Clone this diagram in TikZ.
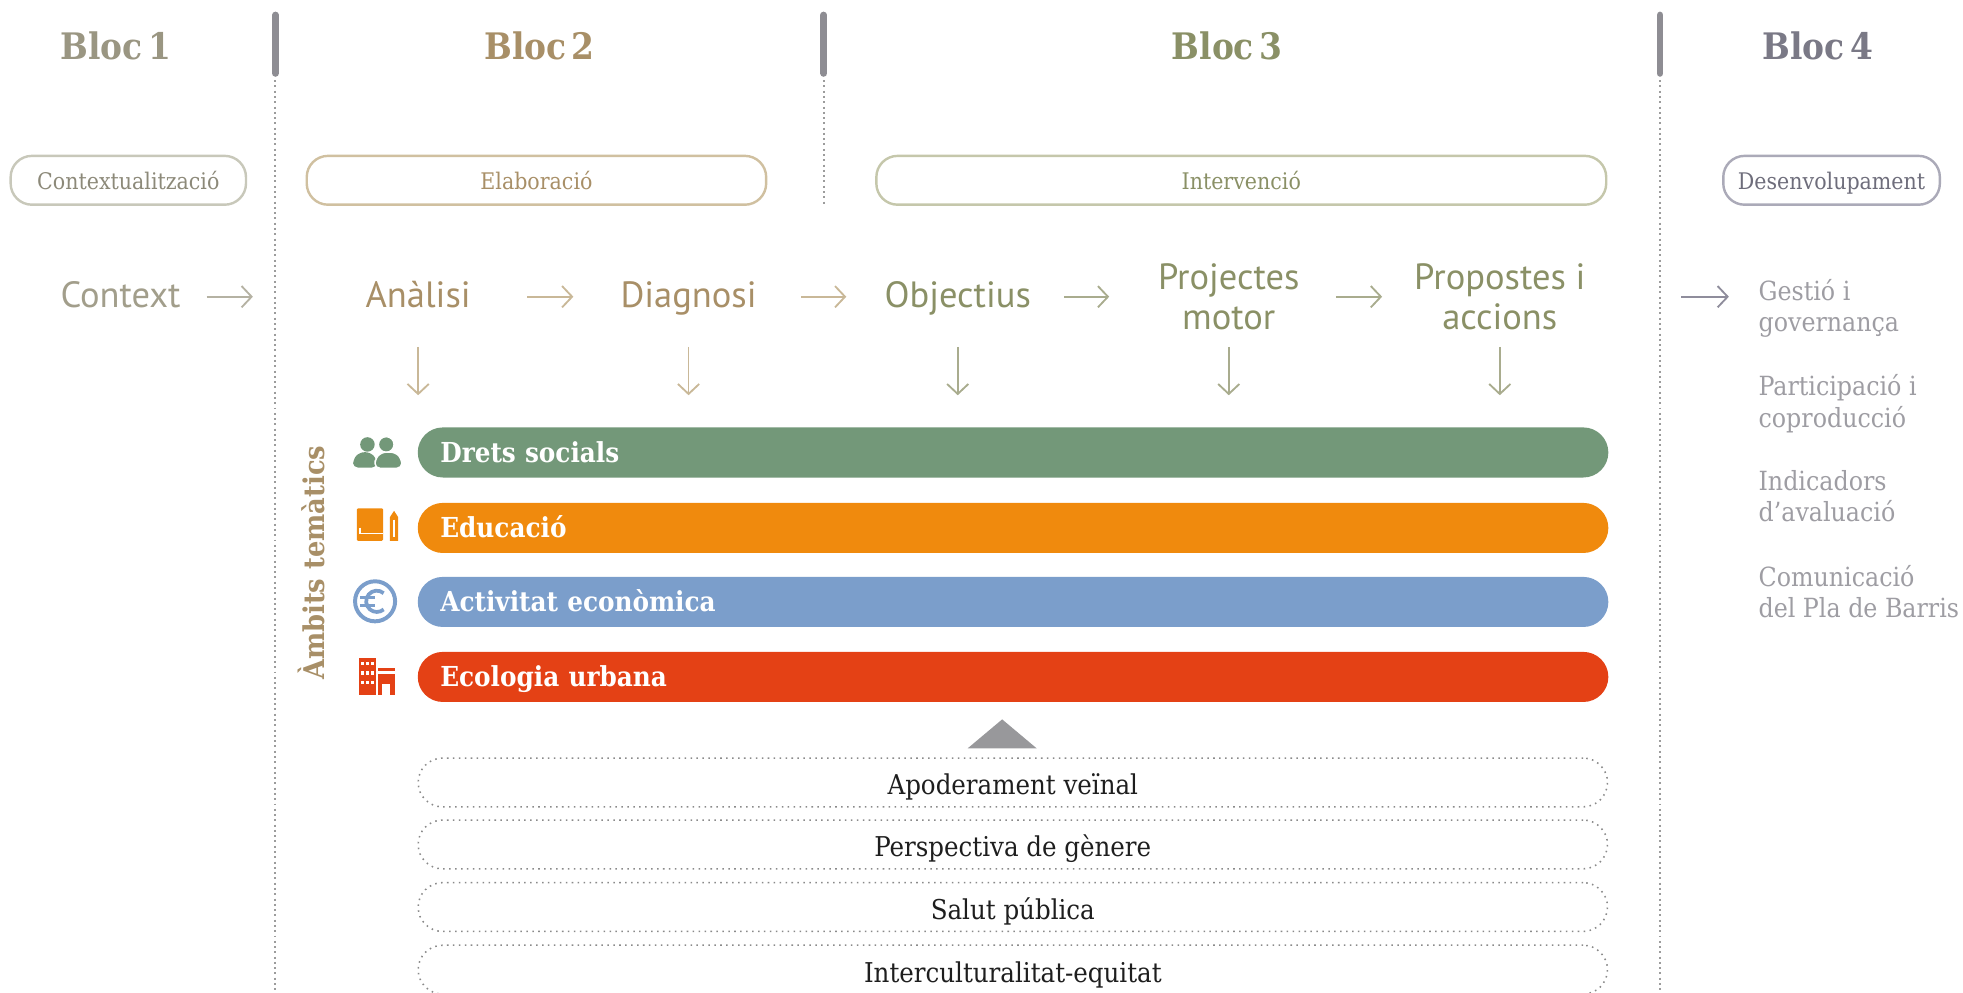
\documentclass[tikz,border=0pt]{standalone}
\usepackage{fontspec}
\setmainfont{DejaVu Serif Condensed}
\newfontfamily\procfont{PT Sans}
\usetikzlibrary{arrows.meta}

\definecolor{blocone}{HTML}{9A9682}
\definecolor{ctxtxt}{HTML}{A29E8B}
\definecolor{pillone}{HTML}{8C8979}
\definecolor{lineone}{HTML}{C8C8BA}
\definecolor{ctxarrow}{HTML}{B5B2A3}
\definecolor{bloctwo}{HTML}{A88F67}
\definecolor{linetwo}{HTML}{D0C0A0}
\definecolor{arrowtwo}{HTML}{C9B898}
\definecolor{blocthree}{HTML}{8A9066}
\definecolor{linethree}{HTML}{C5C7AB}
\definecolor{arrowthree}{HTML}{A9AC8E}
\definecolor{blocfour}{HTML}{7A7986}
\definecolor{linefour}{HTML}{ABAAB8}
\definecolor{pillfour}{HTML}{6E6D7B}
\definecolor{arrowfour}{HTML}{8F8D9C}
\definecolor{latertxt}{HTML}{9E9DA3}
\definecolor{sepcol}{HTML}{8E8D93}
\definecolor{dotcol}{HTML}{9C9C9C}
\definecolor{cdrets}{HTML}{739879}
\definecolor{ceduc}{HTML}{F08A0D}
\definecolor{cecon}{HTML}{7B9ECB}
\definecolor{cecol}{HTML}{E44115}
\definecolor{tricol}{HTML}{98989B}
\definecolor{themeline}{HTML}{8A8A8A}
\definecolor{themetxt}{HTML}{1E1E1E}

\newcommand{\blocfont}{\bfseries\fontsize{8.3}{9}\selectfont\spaceskip 0.14em\relax}

\tikzset{
	bloc/.style={font=\blocfont, inner sep=0},
	pill/.style={draw, line width=0.55pt, rounded corners=0.17cm, minimum height=0.39cm, inner sep=0, text height=0.17cm, text depth=0.03cm, font=\fontsize{5.2}{6}\selectfont},
	proc/.style={font=\procfont\fontsize{8.3}{9.1}\selectfont, inner sep=0, align=center},
	procone/.style={proc, text height=0.22cm, text depth=0.04cm},
	flow/.style={-{Straight Barb[length=0.8mm,width=1.7mm]}, line width=0.42pt},
	downflow/.style={flow, shorten <=0.40cm, shorten >=0.25cm},
	later/.style={font=\fontsize{6.0}{7.1}\selectfont, text=latertxt, inner sep=0, align=left, anchor=west},
	bar/.style={anchor=west, minimum width=9.51cm, minimum height=0.40cm, text width=9.15cm, inner xsep=0.18cm, inner ysep=0, text height=0.20cm, text depth=0.04cm, rounded corners=0.2cm, text=white, align=left, font=\bfseries\fontsize{6.25}{7}\selectfont},
	theme/.style={draw=themeline, densely dotted, line width=0.35pt, minimum width=9.50cm, minimum height=0.39cm, rounded corners=0.195cm, inner sep=0, text height=0.26cm, text depth=0.06cm, text=themetxt, font=\fontsize{6.2}{7}\selectfont},
	sepdots/.style={dotcol, line width=0.45pt, dash pattern=on 0.45pt off 0.75pt},
}

\begin{document}
\begin{tikzpicture}
		\newcommand{\blocsep}[2]{ % #1: x-coordinate, #2: lower end of the dots
			\draw[sepcol, line width=1.55pt, line cap=round] (#1,-0.12) -- (#1,-0.586);
			\draw[sepdots] (#1,-0.64) -- (#1,#2);
		}
		\useasboundingbox (0,0) rectangle (15.68,-7.93);
		
		\blocsep{2.20}{-7.93}
		\blocsep{6.58}{-1.64}
		\blocsep{13.26}{-7.93}
		
		%bloc headers
		\node[bloc, text=blocone] (bloc1) at (0.925,-0.37) {Bloc 1};
		\node[bloc, text=bloctwo] (bloc2) at (4.31,-0.37) {Bloc 2};
		\node[bloc, text=blocthree] (bloc3) at (9.80,-0.37) {Bloc 3};
		\node[bloc, text=blocfour] (bloc4) at (14.52,-0.37) {Bloc 4};
		
		%phases
		\node[pill, draw=lineone, text=pillone, minimum width=1.88cm] (ctxpill) at (1.025,-1.44) {Contextualització};
		\node[pill, draw=linetwo, text=bloctwo, minimum width=3.67cm] (elabpill) at (4.285,-1.44) {Elaboració};
		\node[pill, draw=linethree, text=blocthree, minimum width=5.83cm] (intpill) at (9.915,-1.44) {Intervenció};
		\node[pill, draw=linefour, text=pillfour, minimum width=1.73cm] (despill) at (14.63,-1.44) {Desenvolupament};
		
		%steps
		\node[procone, text=ctxtxt] (context) at (0.963,-2.37) {Context};
		\node[procone, text=bloctwo] (analisi) at (3.34,-2.37) {Anàlisi};
		\node[procone, text=bloctwo] (diagnosi) at (5.50,-2.37) {Diagnosi};
		\node[procone, text=blocthree] (objectius) at (7.65,-2.37) {Objectius};
		\node[proc, text=blocthree] (projectes) at (9.815,-2.37) {Projectes\\motor};
		\node[proc, text=blocthree] (propostes) at (11.98,-2.37) {Propostes i\\accions};
		
		\draw[flow, ctxarrow, shorten <=0.687cm, shorten >=1.32cm] (context.center) -- (analisi.center);
		\draw[flow, arrowtwo, shorten <=0.87cm, shorten >=0.92cm] (analisi.center) -- (diagnosi.center);
		\draw[flow, arrowtwo, shorten <=0.90cm, shorten >=0.89cm] (diagnosi.center) -- (objectius.center);
		\draw[flow, arrowthree, shorten <=0.85cm, shorten >=0.955cm] (objectius.center) -- (projectes.center);
		\draw[flow, arrowthree, shorten <=0.855cm, shorten >=0.94cm] (projectes.center) -- (propostes.center);
		
		%bloc 4
		\node[later] (gestio) at (14.04,-2.465) {Gestió i\\governança};
		\node[later] (particip) at (14.04,-3.225) {Participació i\\coproducció};
		\node[later] (indic) at (14.04,-3.96) {Indicadors\\d’avaluació};
		\node[later] (comunic) at (14.04,-4.726) {Comunicació\\del Pla de Barris};
		\draw[flow, arrowfour, shorten <=1.45cm, shorten >=0.23cm] (propostes.center) -- (propostes.center -| gestio.west);
		
		%thematic bars
		\node[bar, fill=cdrets] (drets) at (3.33,-3.614) {Drets socials};
		\node[bar, fill=ceduc] (educ) at (3.33,-4.217) {Educació};
		\node[bar, fill=cecon] (econ) at (3.33,-4.808) {Activitat econòmica};
		\node[bar, fill=cecol] (ecol) at (3.33,-5.407) {Ecologia urbana};
		\node[rotate=90, inner sep=0, text=bloctwo, font=\bfseries\fontsize{6.5}{7}\selectfont] (ambits) at (2.485,-4.495) {Àmbits temàtics};
		
		\foreach \n/\c in {analisi/arrowtwo, diagnosi/arrowtwo, objectius/arrowthree, projectes/arrowthree, propostes/arrowthree}
			\draw[downflow, \c] (\n.center) -- (\n.center |- drets.north);
		
		%icons
		\fill[cdrets] (2.935,-3.55) circle [radius=0.058];
		\fill[cdrets, rounded corners=0.04cm] (2.82,-3.735) -- (2.82,-3.67) -- (2.87,-3.612) -- (2.96,-3.612) -- (3.01,-3.67) -- (3.01,-3.735) -- cycle;
		\filldraw[cdrets, draw=white, line width=0.3pt] (3.085,-3.55) circle [radius=0.062];
		\filldraw[cdrets, draw=white, line width=0.3pt, rounded corners=0.04cm] (2.995,-3.74) -- (2.995,-3.67) -- (3.045,-3.612) -- (3.16,-3.612) -- (3.21,-3.67) -- (3.21,-3.74) -- cycle;
		
		\fill[ceduc, rounded corners=0.01cm] (2.85,-4.06) rectangle (3.06,-4.32);
		\draw[white, line width=0.35pt] (2.875,-4.215) -- (2.875,-4.26) -- (3.06,-4.26);
		\fill[ceduc] (3.115,-4.32) -- (3.115,-4.13) -- (3.1475,-4.08) -- (3.18,-4.13) -- (3.18,-4.32) -- cycle;
		\draw[white, line width=0.35pt] (3.1475,-4.15) -- (3.1475,-4.29);
		
		\draw[cecon, line width=0.9pt] (2.996,-4.803) circle [radius=0.16];
		\draw[cecon, line width=0.85pt] (3.0646,-4.7379) arc [start angle=50, end angle=310, radius=0.085];
		\draw[cecon, line width=0.7pt] (2.875,-4.775) -- (2.995,-4.775);
		\draw[cecon, line width=0.7pt] (2.875,-4.835) -- (2.995,-4.835);
		
		\fill[cecol] (2.867,-5.256) rectangle (3.002,-5.55);
		\foreach \i in {0,1,2}
			\foreach \j in {0,1,2}
				\fill[white] (2.885+0.04*\i,-5.288-0.075*\j) rectangle ++(0.025,-0.025);
		\fill[cecol] (3.02,-5.337) rectangle (3.155,-5.36);
		\fill[cecol] (3.02,-5.38) rectangle (3.155,-5.55);
		\fill[white] (3.055,-5.46) rectangle (3.115,-5.55);
		
		%cross-cutting themes
		\fill[tricol] (7.73,-5.977) -- (8.28,-5.977) -- (8.005,-5.746) -- cycle;
		\node[theme] (apoder) at (8.09,-6.25) {Apoderament veïnal};
		\node[theme] (genere) at (8.09,-6.745) {Perspectiva de gènere};
		\node[theme] (salut) at (8.09,-7.245) {Salut pública};
		\node[theme] (intercult) at (8.09,-7.745) {Interculturalitat-equitat};
		
	\end{tikzpicture}
\end{document}
